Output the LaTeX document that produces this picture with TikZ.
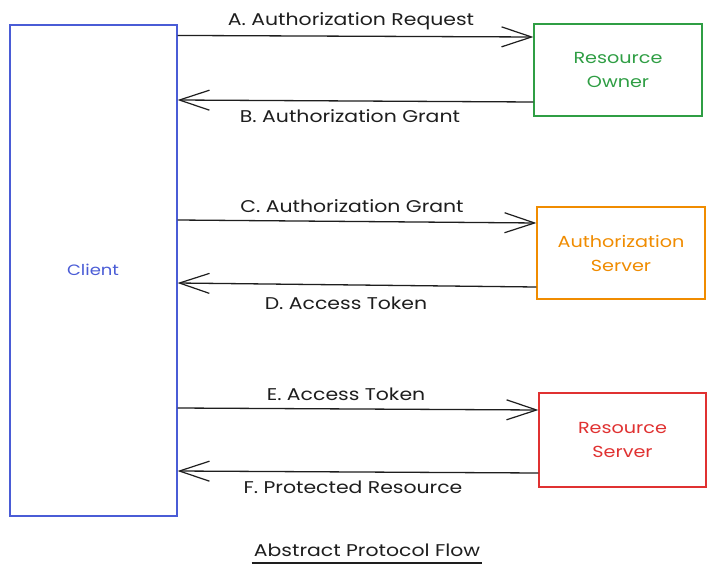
\documentclass[tikz,border=0pt]{standalone}
\usepackage{fontspec}
\setmainfont{Poppins}[FakeStretch=1.2]
\usetikzlibrary{arrows.meta}
\definecolor{cblue}{HTML}{4A5CD6}
\definecolor{cgreen}{HTML}{2F9E44}
\definecolor{corange}{HTML}{F08C00}
\definecolor{cred}{HTML}{E03131}
\definecolor{cink}{HTML}{1E1E1E}
\tikzset{
  actor/.style={draw, line width=1.1pt, fill=white, inner sep=0pt, align=center,
    font=\fontsize{16}{24}\selectfont},
  msg/.style={draw=cink, line width=1.3pt, -{Straight Barb[length=30pt,width=20pt,line width=1.2pt]}},
  lbl/.style={font=\fontsize{17}{20}\selectfont, text=cink, inner sep=0pt},
}
\begin{document}
\begin{tikzpicture}[x=1pt,y=-1pt]
\useasboundingbox[fill=white] (0,0) rectangle (714,575);
\node[actor, draw=cblue, text=cblue, minimum width=167pt, minimum height=491pt] (client) at (93.5,270.5) {};
\node[text=cblue, font=\fontsize{15}{18}\selectfont] (clientlbl) at (93,270) {Client};
\node[actor, draw=cgreen, text=cgreen, minimum width=168pt, minimum height=92pt] (ro) at (618,70) {Resource\\Owner};
\node[actor, draw=corange, text=corange, minimum width=168pt, minimum height=92pt] (as) at (621,253) {Authorization\\Server};
\node[actor, draw=cred, text=cred, minimum width=167pt, minimum height=94pt] (rs) at (622.5,440) {Resource\\Server};

\draw[msg] ([yshift=-11pt]client.north east) -- ([yshift=33pt]ro.west);
\draw[msg] ([yshift=-32pt]ro.west) -- ([yshift=170.5pt]client.east);
\draw[msg] ([yshift=50.5pt]client.east) -- ([yshift=30pt]as.west);
\draw[msg] ([yshift=-34pt]as.west) -- ([yshift=-12.5pt]client.east);
\draw[msg] ([yshift=-137.5pt]client.east) -- ([yshift=30pt]rs.west);
\draw[msg] ([yshift=-33pt]rs.west) -- ([yshift=-200.5pt]client.east);

\node[lbl] (la) at (351,21) {A. Authorization Request};
\node[lbl] (lb) at (350,116) {B. Authorization Grant};
\node[lbl] (lc) at (352,206) {C. Authorization Grant};
\node[lbl] (ld) at (346,303) {D. Access Token};
\node[lbl] (le) at (346,394) {E. Access Token};
\node[lbl] (lf) at (353,487) {F. Protected Resource};

\node[lbl] (title) at (367,550) {Abstract Protocol Flow};
\draw[cink, line width=1.3pt] ([yshift=-13pt,xshift=-2pt]title.west) -- ([yshift=-13pt,xshift=2pt]title.east);
\end{tikzpicture}
\end{document}
